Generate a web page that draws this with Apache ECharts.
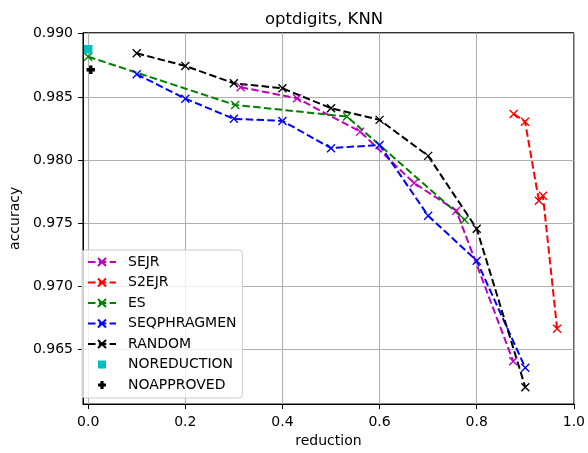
<!DOCTYPE html>
<html>
<head>
<meta charset="utf-8">
<script src="https://cdn.jsdelivr.net/npm/echarts@6/dist/echarts.min.js"></script>
<style>html,body{margin:0;padding:0;background:#fff;}#c{width:588px;height:453px;}</style>
</head>
<body>
<div id="c"></div>
<script>
const xTicks = [0.0, 0.2, 0.4, 0.6, 0.8, 1.0];
const yTicks = [0.965, 0.970, 0.975, 0.980, 0.985, 0.990];

const sejrX = [0.314, 0.43, 0.56, 0.671, 0.758, 0.875];
const sejrY = [0.98576, 0.98489, 0.98225, 0.97818, 0.97599, 0.96408];

const s2ejrX = [0.876, 0.8995, 0.928, 0.9364, 0.9655];
const s2ejrY = [0.98365, 0.98304, 0.97678, 0.97717, 0.96664];

const esX = [0.0, 0.3027, 0.533, 0.775];
const esY = [0.98818, 0.98436, 0.98344, 0.97528];

const seqX = [0.1, 0.2, 0.3, 0.4, 0.5, 0.6, 0.7, 0.8, 0.9];
const seqY = [0.98679, 0.98486, 0.98326, 0.98310, 0.98094, 0.98120, 0.97559, 0.97203, 0.96355];

const randX = [0.1, 0.2, 0.3, 0.4, 0.5, 0.6, 0.7, 0.8, 0.9];
const randY = [0.98845, 0.98745, 0.98608, 0.98568, 0.98410, 0.98318, 0.98033, 0.97456, 0.96202];

const noRedX = [0.0];
const noRedY = [0.98877];
const noAppX = [0.0054];
const noAppY = [0.98715];

const FONT = 'DejaVu Sans';
const X_PATH = 'path://M0,0L10,10M10,0L0,10';
const P_PATH = 'path://M3,0H7V3H10V7H7V10H3V7H0V3H3Z';

function zip(xs, ys) { return xs.map((x, i) => [x, ys[i]]); }

function dashed(name, xs, ys, color) {
  return {
    name: name, type: 'line', data: zip(xs, ys),
    symbol: X_PATH, symbolSize: 8, showSymbol: true,
    itemStyle: { color: color, borderColor: color, borderWidth: 1.4 },
    lineStyle: { color: color, width: 2, type: [7.5, 3.3] },
    clip: false
  };
}
function marker(name, xs, ys, color, sym) {
  return {
    name: name, type: 'line', data: zip(xs, ys),
    symbol: sym, symbolSize: 8.5, showSymbol: true,
    itemStyle: { color: color, borderWidth: 0 },
    lineStyle: { opacity: 0, width: 0 },
    clip: false
  };
}

const chart = echarts.init(document.getElementById('c'), null, { renderer: 'canvas' });
chart.setOption({
  animation: false,
  backgroundColor: '#fff',
  title: {
    text: 'optdigits, KNN', left: 324, top: 11, textAlign: 'center', padding: 0,
    textStyle: { fontFamily: FONT, fontSize: 16.5, fontWeight: 'normal', color: '#000' }
  },
  grid: {
    left: 74, right: 13.5, top: 32.7, bottom: 48.5,
    show: true, borderColor: '#000', borderWidth: 1, backgroundColor: 'transparent'
  },
  xAxis: {
    type: 'value', min: -0.0107, max: 1.0,
    name: 'reduction', nameLocation: 'middle', nameGap: 30,
    nameTextStyle: { fontFamily: FONT, fontSize: 14, color: '#000' },
    axisLine: { show: true, onZero: false, lineStyle: { color: '#000', width: 1 } },
    axisTick: { show: true, length: 5, lineStyle: { color: '#000' }, customValues: xTicks },
    axisLabel: { customValues: xTicks, margin: 11, fontFamily: FONT, fontSize: 14, color: '#000',
      formatter: v => v.toFixed(1) },
    splitLine: { show: true, lineStyle: { color: '#b0b0b0', width: 1.1 } }
  },
  yAxis: {
    type: 'value', min: 0.96069, max: 0.99008,
    name: 'accuracy', nameLocation: 'middle', nameGap: 58,
    nameTextStyle: { fontFamily: FONT, fontSize: 14, color: '#000' },
    axisLine: { show: true, onZero: false, lineStyle: { color: '#000', width: 1 } },
    axisTick: { show: true, length: 5, lineStyle: { color: '#000' }, customValues: yTicks },
    axisLabel: { customValues: yTicks, margin: 10, fontFamily: FONT, fontSize: 14, color: '#000',
      formatter: v => v.toFixed(3) },
    splitLine: { show: true, lineStyle: { color: '#b0b0b0', width: 1.1 } }
  },
  legend: {
    orient: 'vertical', left: 82, top: 250,
    itemWidth: 28, itemHeight: 10, itemGap: 6.5,
    padding: [5, 6, 6, 5],
    backgroundColor: 'rgba(255,255,255,0.8)', borderColor: '#cccccc', borderWidth: 1, borderRadius: 3,
    textStyle: { fontFamily: FONT, fontSize: 14, color: '#000', padding: [0, 0, 0, 7] },
    data: [
      { name: 'SEJR' }, { name: 'S2EJR' }, { name: 'ES' }, { name: 'SEQPHRAGMEN' }, { name: 'RANDOM' },
      { name: 'NOREDUCTION', lineStyle: { opacity: 0 } },
      { name: 'NOAPPROVED', lineStyle: { opacity: 0 } }
    ]
  },
  series: [
    dashed('SEJR', sejrX, sejrY, '#bf00bf'),
    dashed('S2EJR', s2ejrX, s2ejrY, '#ff0000'),
    dashed('ES', esX, esY, '#008000'),
    dashed('SEQPHRAGMEN', seqX, seqY, '#0000ff'),
    dashed('RANDOM', randX, randY, '#000000'),
    marker('NOREDUCTION', noRedX, noRedY, '#00bfbf', 'rect'),
    marker('NOAPPROVED', noAppX, noAppY, '#000000', P_PATH)
  ]
});
</script>
</body>
</html>
